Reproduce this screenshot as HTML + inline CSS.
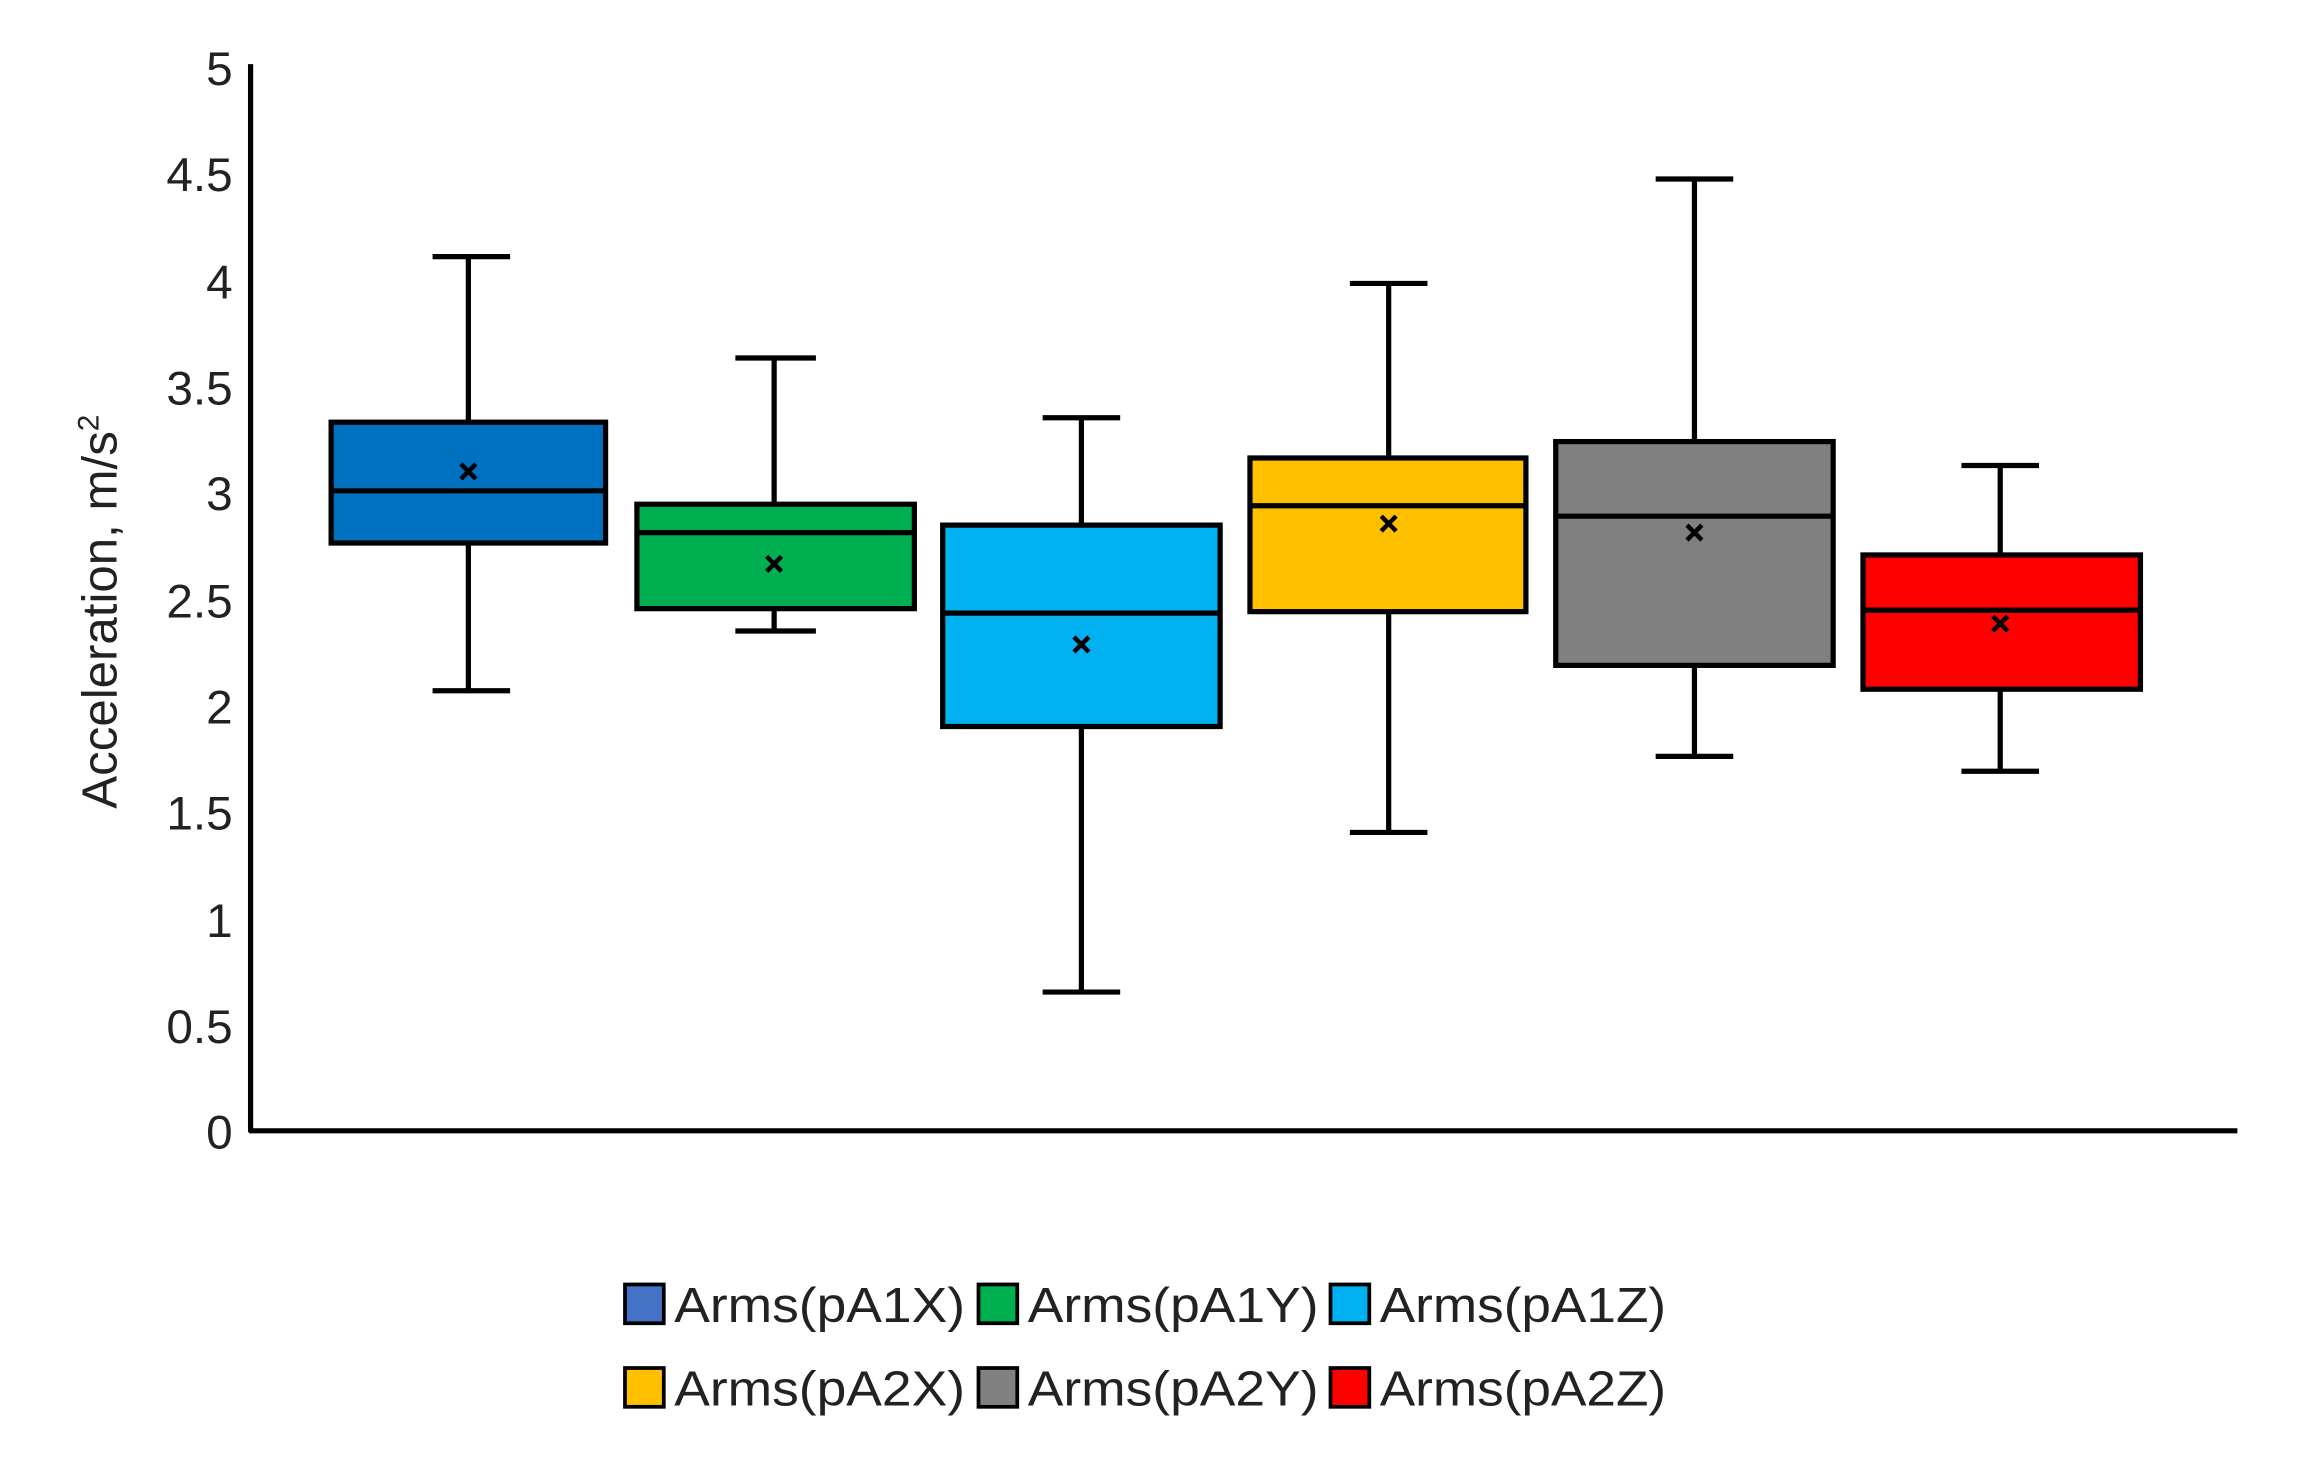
<!DOCTYPE html>
<html><head><meta charset="utf-8"><style>
html,body{margin:0;padding:0;background:#fff;}
svg{display:block;}
text{font-family:"Liberation Sans",sans-serif;fill:#222;}
</style></head><body>
<svg width="2306" height="1462" viewBox="0 0 1546 980" preserveAspectRatio="none" xmlns="http://www.w3.org/2000/svg">
<rect width="1546" height="980" fill="#fff"/>
<g font-size="32" text-anchor="end">
<text x="156" y="770">0</text>
<text x="156" y="699">0.5</text>
<text x="156" y="628">1</text>
<text x="156" y="556">1.5</text>
<text x="156" y="485">2</text>
<text x="156" y="414">2.5</text>
<text x="156" y="342">3</text>
<text x="156" y="271">3.5</text>
<text x="156" y="200">4</text>
<text x="156" y="128">4.5</text>
<text x="156" y="57">5</text>
</g>
<text transform="translate(78,410) rotate(-90)" font-size="33" text-anchor="middle">Acceleration, m/s<tspan font-size="20" dy="-12">2</tspan></text>
<g stroke="#000" stroke-width="3.5" fill="none">
<line x1="168" y1="43" x2="168" y2="759"/>
<line x1="167" y1="758" x2="1500" y2="758"/>
</g>
<g stroke="#000" stroke-width="3.5">
<line x1="314" y1="172" x2="314" y2="463"/><line x1="290" y1="172" x2="342" y2="172"/><line x1="290" y1="463" x2="342" y2="463"/>
<rect x="222" y="283" width="184" height="81" fill="#0070C0"/><line x1="222" y1="329" x2="406" y2="329"/>
<line x1="519" y1="240" x2="519" y2="423"/><line x1="493" y1="240" x2="547" y2="240"/><line x1="493" y1="423" x2="547" y2="423"/>
<rect x="427" y="338" width="186" height="70" fill="#00B050"/><line x1="427" y1="357" x2="613" y2="357"/>
<line x1="725" y1="280" x2="725" y2="665"/><line x1="699" y1="280" x2="751" y2="280"/><line x1="699" y1="665" x2="751" y2="665"/>
<rect x="632" y="352" width="186" height="135" fill="#00B0F0"/><line x1="632" y1="411" x2="818" y2="411"/>
<line x1="931" y1="190" x2="931" y2="558"/><line x1="905" y1="190" x2="957" y2="190"/><line x1="905" y1="558" x2="957" y2="558"/>
<rect x="838" y="307" width="185" height="103" fill="#FFC000"/><line x1="838" y1="339" x2="1023" y2="339"/>
<line x1="1136" y1="120" x2="1136" y2="507"/><line x1="1110" y1="120" x2="1162" y2="120"/><line x1="1110" y1="507" x2="1162" y2="507"/>
<rect x="1043" y="296" width="186" height="150" fill="#808080"/><line x1="1043" y1="346" x2="1229" y2="346"/>
<line x1="1341" y1="312" x2="1341" y2="517"/><line x1="1315" y1="312" x2="1367" y2="312"/><line x1="1315" y1="517" x2="1367" y2="517"/>
<rect x="1249" y="372" width="186" height="90" fill="#FF0000"/><line x1="1249" y1="409" x2="1435" y2="409"/>
</g>
<g stroke="#000" stroke-width="3">
<path d="M309 311l10 10M319 311l-10 10"/>
<path d="M514 373l10 10M524 373l-10 10"/>
<path d="M720 427l10 10M730 427l-10 10"/>
<path d="M926 346l10 10M936 346l-10 10"/>
<path d="M1131 352l10 10M1141 352l-10 10"/>
<path d="M1336 413l10 10M1346 413l-10 10"/>
</g>
<g stroke="#000" stroke-width="2.5">
<rect x="419" y="861" width="26" height="26" fill="#4472C4"/>
<rect x="656" y="861" width="26" height="26" fill="#00B050"/>
<rect x="892" y="861" width="26" height="26" fill="#00B0F0"/>
<rect x="419" y="917" width="26" height="26" fill="#FFC000"/>
<rect x="656" y="917" width="26" height="26" fill="#808080"/>
<rect x="892" y="917" width="26" height="26" fill="#FF0000"/>
</g>
<g font-size="33">
<text x="452" y="886" textLength="195" lengthAdjust="spacingAndGlyphs">Arms(pA1X)</text>
<text x="689" y="886" textLength="195" lengthAdjust="spacingAndGlyphs">Arms(pA1Y)</text>
<text x="925" y="886" textLength="192" lengthAdjust="spacingAndGlyphs">Arms(pA1Z)</text>
<text x="452" y="942" textLength="195" lengthAdjust="spacingAndGlyphs">Arms(pA2X)</text>
<text x="689" y="942" textLength="195" lengthAdjust="spacingAndGlyphs">Arms(pA2Y)</text>
<text x="925" y="942" textLength="192" lengthAdjust="spacingAndGlyphs">Arms(pA2Z)</text>
</g>
</svg>
</body></html>
